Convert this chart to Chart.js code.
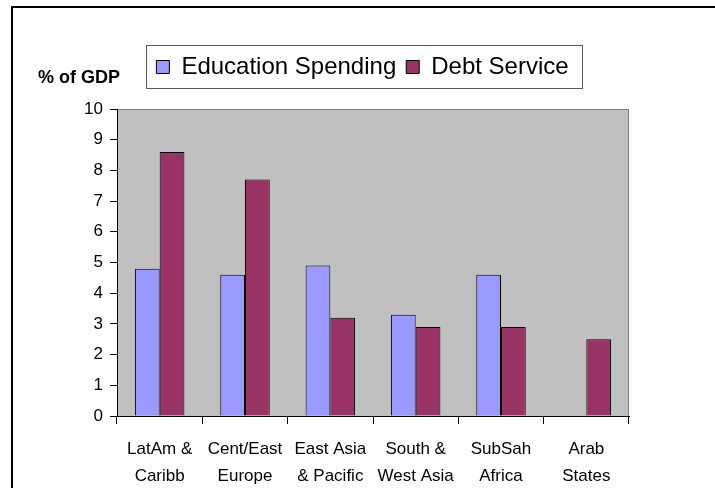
<!DOCTYPE html>
<html>
<head>
<meta charset="utf-8">
<script src="https://cdn.jsdelivr.net/npm/chart.js@4/dist/chart.umd.min.js"></script>
<style>
  html, body { margin: 0; padding: 0; background: #fff; overflow: hidden; width: 715px; height: 488px; }
  #frame { position: absolute; left: 11px; top: 6px; width: 800px; height: 600px; border-left: 2px solid #000; border-top: 2px solid #000; }
  #c { position: absolute; left: 0; top: 0; }
</style>
</head>
<body>
<div id="frame"></div>
<canvas id="c" width="715" height="488"></canvas>
<script>
const categories = [
  ['LatAm &', 'Caribb'],
  ['Cent/East', 'Europe'],
  ['East Asia', '& Pacific'],
  ['South &', 'West Asia'],
  ['SubSah', 'Africa'],
  ['Arab', 'States']
];
const educationSpending = [4.8, 4.6, 4.9, 3.3, 4.6, null];
const debtService = [8.6, 7.7, 3.2, 2.9, 2.9, 2.5];
const yAxisTitle = '% of GDP';
const seriesNames = ['Education Spending', 'Debt Service'];

const FONT = "'Liberation Sans', Arial, sans-serif";

const decor = {
  id: 'decor',
  beforeDraw(chart) {
    const {ctx, chartArea: a} = chart;
    ctx.save();
    ctx.fillStyle = '#C0C0C0';
    ctx.fillRect(a.left, a.top, a.right - a.left, a.bottom - a.top);
    ctx.strokeStyle = '#808080';
    ctx.lineWidth = 1;
    ctx.beginPath();
    ctx.moveTo(a.left, a.top + 0.5);
    ctx.lineTo(a.right - 0.5, a.top + 0.5);
    ctx.lineTo(a.right - 0.5, a.bottom);
    ctx.stroke();
    ctx.restore();
  },
  afterDraw(chart) {
    const ctx = chart.ctx;
    const lg = chart.legend;
    if (lg && lg.legendHitBoxes && lg.legendHitBoxes.length) {
      const hb = lg.legendHitBoxes;
      const first = hb[0], last = hb[hb.length - 1];
      const l = Math.round(first.left - 10) + 0.5;
      const r = Math.round(last.left + last.width + 13) + 0.5;
      const t = Math.round(lg.top) + 0.5;
      const b = Math.round(lg.bottom - 1) + 0.5;
      ctx.save();
      ctx.strokeStyle = '#5a5a5a';
      ctx.lineWidth = 1;
      ctx.strokeRect(l, t, r - l, b - t);
      ctx.restore();
    }
    ctx.save();
    ctx.fillStyle = '#000';
    ctx.font = "bold 18px " + FONT;
    ctx.textAlign = 'left';
    ctx.textBaseline = 'alphabetic';
    ctx.fillText(yAxisTitle, 38, 83);
    ctx.restore();
  }
};

new Chart(document.getElementById('c'), {
  type: 'bar',
  data: {
    labels: categories,
    datasets: [
      { label: seriesNames[0], data: educationSpending, backgroundColor: '#9999FF', borderColor: '#000', borderWidth: 1 },
      { label: seriesNames[1], data: debtService, backgroundColor: '#993366', borderColor: '#000', borderWidth: 1 }
    ]
  },
  options: {
    responsive: false,
    animation: false,
    devicePixelRatio: 1,
    layout: { padding: { left: 75, right: 65, top: 45, bottom: 0 } },
    datasets: { bar: { categoryPercentage: 0.58, barPercentage: 1.0 } },
    plugins: {
      tooltip: { enabled: false },
      title: { display: true, text: '', padding: 0, font: { size: 20, lineHeight: 1 } },
      legend: {
        display: true,
        position: 'top',
        weight: 3000,
        labels: {
          boxWidth: 13,
          boxHeight: 13,
          padding: 10,
          color: '#000',
          font: { family: FONT, size: 24 }
        }
      }
    },
    scales: {
      x: {
        grid: { display: true, drawOnChartArea: false, drawTicks: true, tickLength: 8, color: '#000', offset: true },
        border: { display: true, color: '#000', width: 1 },
        ticks: { color: '#000', padding: 12, maxRotation: 0, autoSkip: false, font: { family: FONT, size: 17, lineHeight: 1.6 } },
        afterFit(scale) { scale.height = 72; }
      },
      y: {
        min: 0,
        max: 10,
        grid: { display: true, drawOnChartArea: false, drawTicks: true, tickLength: 7, color: '#000' },
        border: { display: true, color: '#000', width: 1 },
        ticks: { stepSize: 1, color: '#000', padding: 7, font: { family: FONT, size: 17 } },
        afterFit(scale) { scale.width = 42; }
      },
      spacer: {
        type: 'linear',
        position: 'right',
        min: 0,
        max: 10,
        grid: { display: false, drawTicks: false },
        border: { display: false },
        ticks: { display: false },
        afterFit(scale) { scale.width = 21; }
      }
    }
  },
  plugins: [decor]
});
</script>
</body>
</html>
